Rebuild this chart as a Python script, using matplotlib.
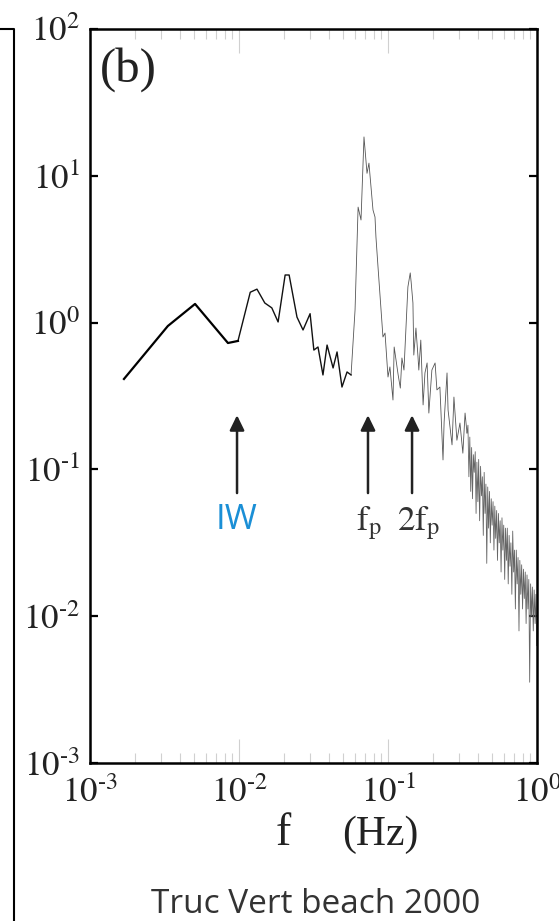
import matplotlib
matplotlib.use('Agg')
import matplotlib.pyplot as plt
from matplotlib.lines import Line2D

plt.rcParams['mathtext.fontset'] = 'stix'
plt.rcParams['font.family'] = ['Liberation Serif', 'DejaVu Serif']

# spectrum (f in Hz, S in m^2/Hz)
freq_low = [0.00169, 0.00333, 0.00507, 0.00843, 0.00984]
psd_low = [0.413, 0.948, 1.34, 0.726, 0.750]

freq_mid = [0.00984, 0.0119, 0.0132, 0.0149, 0.0166, 0.0183, 0.0204, 0.0217,
            0.0245, 0.0269, 0.0300, 0.0318, 0.0339, 0.0366, 0.0390, 0.0428,
            0.0455, 0.0491, 0.0531, 0.0565]
psd_mid = [0.750, 1.61, 1.69, 1.36, 1.26, 1.01, 2.11, 2.11,
           1.09, 0.891, 1.15, 0.650, 0.682, 0.440, 0.703, 0.491,
           0.631, 0.364, 0.461, 0.440]

freq_peak = [0.0565, 0.0601, 0.0630, 0.0659, 0.0690, 0.0723, 0.0745, 0.0793,
             0.0818, 0.0830, 0.0857, 0.0925, 0.0955, 0.100, 0.103, 0.108,
             0.110, 0.117, 0.121, 0.124, 0.128, 0.136, 0.141, 0.143,
             0.147, 0.149, 0.154, 0.159, 0.161, 0.166, 0.172, 0.177,
             0.183, 0.188, 0.197, 0.207, 0.213, 0.223, 0.234, 0.238,
             0.249, 0.253, 0.269, 0.277, 0.290, 0.304, 0.318, 0.329,
             0.339]
psd_peak = [0.440, 1.22, 6.12, 5.00, 18.4, 10.4, 12.2, 5.85,
            5.24, 3.83, 2.39, 0.798, 0.849, 0.426, 0.499, 0.297,
            0.682, 0.440, 0.358, 0.574, 0.475, 1.75, 2.18, 1.89,
            1.36, 0.601, 0.918, 0.583, 0.475, 0.760, 0.275, 0.454,
            0.531, 0.242, 0.475, 0.531, 0.348, 0.364, 0.116, 0.210,
            0.454, 0.254, 0.147, 0.311, 0.158, 0.207, 0.129, 0.242,
            0.177]

freq_hf = [0.339, 0.344, 0.349, 0.354, 0.359, 0.364, 0.369,
           0.374, 0.379, 0.385, 0.390, 0.395, 0.401,
           0.406, 0.412, 0.418, 0.424, 0.430, 0.436,
           0.442, 0.448, 0.454, 0.460, 0.467, 0.473,
           0.480, 0.486, 0.493, 0.500, 0.507, 0.514,
           0.521, 0.528, 0.536, 0.543, 0.551, 0.558,
           0.566, 0.574, 0.582, 0.590, 0.598, 0.607,
           0.615, 0.624, 0.632, 0.641, 0.650, 0.659,
           0.668, 0.678, 0.687, 0.697, 0.706, 0.716,
           0.726, 0.736, 0.746, 0.757, 0.767, 0.778,
           0.789, 0.800, 0.811, 0.822, 0.834, 0.845,
           0.857, 0.869, 0.881, 0.893, 0.906, 0.918,
           0.931, 0.944, 0.957, 0.971, 0.984, 0.995]
psd_hf = [0.177, 0.200, 0.0891, 0.166, 0.0708, 0.141, 0.0631,
          0.126, 0.0955, 0.132, 0.0501, 0.112, 0.0603,
          0.117, 0.0447, 0.105, 0.0661, 0.0891, 0.0355,
          0.0955, 0.0501, 0.0794, 0.0229, 0.0759, 0.0398,
          0.0708, 0.0316, 0.0631, 0.0417, 0.0603, 0.0282,
          0.0562, 0.0339, 0.0525, 0.0240, 0.0501, 0.0316,
          0.0447, 0.0200, 0.0468, 0.0282, 0.0417, 0.0178,
          0.0398, 0.0240, 0.0398, 0.0166, 0.0355, 0.0219,
          0.0316, 0.0141, 0.0380, 0.0200, 0.0282, 0.0112,
          0.0282, 0.0166, 0.0251, 0.00794, 0.0240, 0.0141,
          0.0224, 0.0112, 0.0209, 0.0132, 0.0200, 0.00891,
          0.0191, 0.0112, 0.0178, 0.00355, 0.0166, 0.0100,
          0.0158, 0.00794, 0.0151, 0.00891, 0.0141, 0.00631]

# arrows: (frequency, label)
arrow_f = [0.0097, 0.0734, 0.145]
arrow_lab = ['IW', r'$\mathrm{f}_\mathrm{p}$', r'$2\mathrm{f}_\mathrm{p}$']

yticks = [1e-3, 1e-2, 1e-1, 1e0, 1e1, 1e2]
ytick_lab = [r'$10^{\text{-}3}$', r'$10^{\text{-}2}$', r'$10^{\text{-}1}$',
             '$10^{0}$', '$10^{1}$', '$10^{2}$']
xticks = [1e-3, 1e-2, 1e-1, 1e0]
xtick_lab = [r'$10^{\text{-}3}$', r'$10^{\text{-}2}$', r'$10^{\text{-}1}$', '$10^{0}$']

fig = plt.figure(figsize=(5.59, 9.21), dpi=100)
ax = fig.add_axes([90/559, 1-763/921, 447/559, 734/921])

ax.plot(freq_hf, psd_hf, color='#666666', lw=0.6)
ax.plot(freq_peak, psd_peak, color='#555555', lw=0.6)
ax.plot(freq_mid, psd_mid, color='#111111', lw=1.0)
ax.plot(freq_low, psd_low, color='black', lw=1.6)

ax.set_xscale('log')
ax.set_yscale('log')
ax.set_xlim(1e-3, 1e0)
ax.set_ylim(1e-3, 1e2)

ax.set_yticks(yticks)
ax.set_yticklabels(ytick_lab)
ax.set_xticks(xticks)
ax.set_xticklabels(xtick_lab)
ax.yaxis.set_minor_locator(matplotlib.ticker.NullLocator())
ax.tick_params(axis='y', which='major', direction='in', length=6, width=1.6,
               color='black', left=True, right=True, labelsize=25, pad=7,
               labelcolor='#222222')
ax.tick_params(axis='x', which='major', direction='in', length=17, width=0.8,
               color='#d0d0d0', top=True, bottom=True, labelsize=25, pad=10,
               labelcolor='#222222')
ax.tick_params(axis='x', which='minor', direction='in', length=7, width=0.8,
               color='#d0d0d0', top=True, bottom=True)
for s in ax.spines.values():
    s.set_linewidth(1.8)

for f, lab in zip(arrow_f, arrow_lab):
    ax.annotate('', xy=(f, 0.234), xytext=(f, 0.069),
                arrowprops=dict(arrowstyle='-|>,head_length=0.45,head_width=0.22',
                                mutation_scale=20, lw=1.8, color='#222222',
                                shrinkA=0, shrinkB=0))
ax.text(arrow_f[0], 0.045, 'IW', color='#1a8fd6', fontsize=25,
        family=['Open Sans', 'DejaVu Sans'], ha='center', va='center')
ax.text(0.0745, 0.043, arrow_lab[1], color='#333333', fontsize=25,
        ha='center', va='center')
ax.text(0.16, 0.043, arrow_lab[2], color='#333333', fontsize=25,
        ha='center', va='center')

ax.text(0.022, 0.975, '(b)', transform=ax.transAxes, fontsize=35,
        ha='left', va='top', color='#222222')

# x label: big f, then (Hz)
fig.text(283/559, 1-845/921, 'f', fontsize=33, ha='center', va='baseline',
         color='#222222')
fig.text(380/559, 1-845/921, '(Hz)', fontsize=30, ha='center', va='baseline',
         color='#222222')
fig.text(316/559, 1-913/921, 'Truc Vert beach 2000', fontsize=24,
         family=['Open Sans', 'DejaVu Sans'], ha='center', va='baseline',
         color='#333333')

# edge of the neighbouring panel
fig.add_artist(Line2D([0, 14/559, 14/559], [1-29/921, 1-29/921, 0],
                      transform=fig.transFigure, color='black', lw=1.5))

fig.savefig('out.png', dpi=100)
